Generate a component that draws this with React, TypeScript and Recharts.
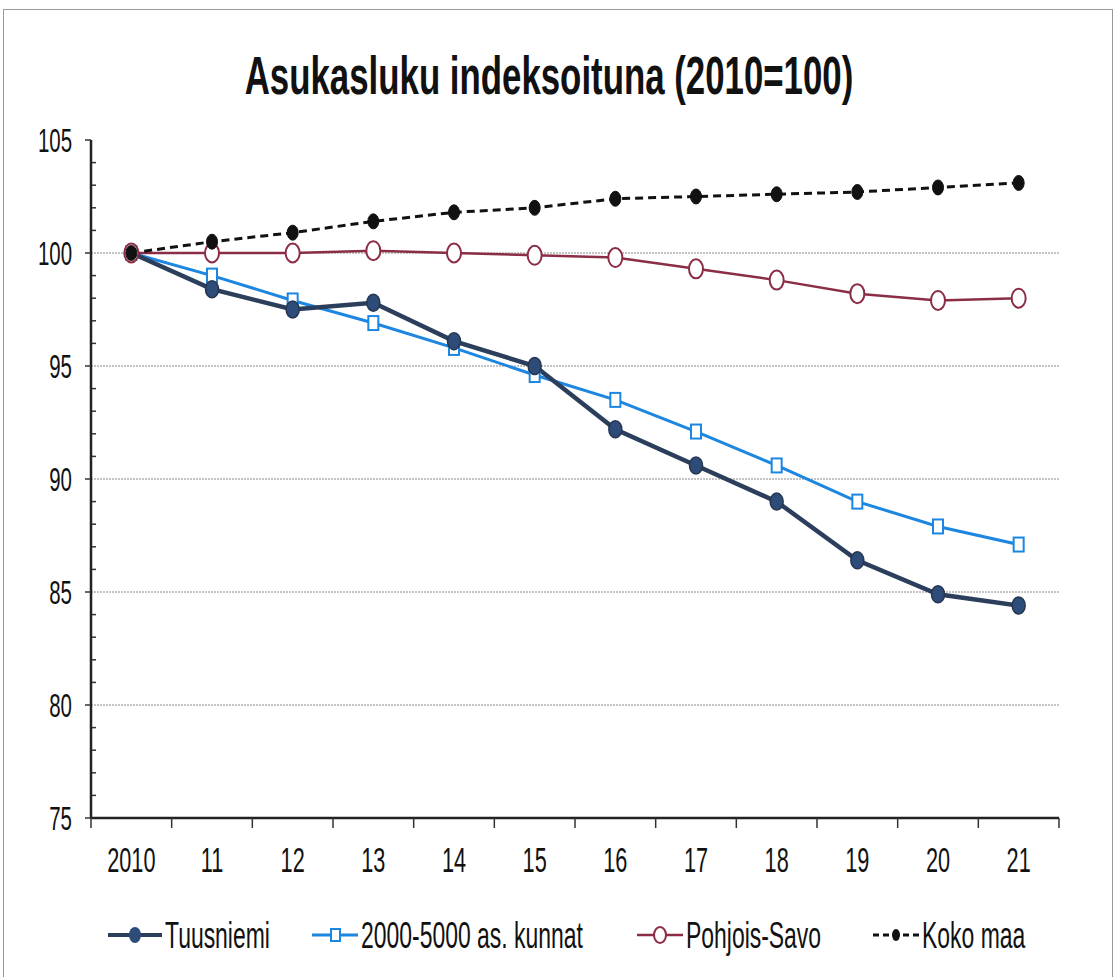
import React from 'react';
import { LineChart, Line, XAxis, YAxis, CartesianGrid } from 'recharts';

const years = ['2010', '11', '12', '13', '14', '15', '16', '17', '18', '19', '20', '21'];
const tuusniemi = [100, 98.4, 97.5, 97.8, 96.1, 95.0, 92.2, 90.6, 89.0, 86.4, 84.9, 84.4];
const kunnat = [100, 99.0, 97.9, 96.9, 95.8, 94.6, 93.5, 92.1, 90.6, 89.0, 87.9, 87.1];
const pohjoisSavo = [100, 100.0, 100.0, 100.1, 100.0, 99.9, 99.8, 99.3, 98.8, 98.2, 97.9, 98.0];
const kokoMaa = [100, 100.5, 100.9, 101.4, 101.8, 102.0, 102.4, 102.5, 102.6, 102.7, 102.9, 103.1];
const yTicks = [75, 80, 85, 90, 95, 100, 105];

const FONT = "'Liberation Sans', Arial, sans-serif";
const SX = 0.62; // the original type is very narrow

const data = years.map((y, i) => ({
  i,
  year: y,
  tuusniemi: tuusniemi[i],
  kunnat: kunnat[i],
  savo: pohjoisSavo[i],
  koko: kokoMaa[i],
}));

// labels on whole indexes, tick marks between categories
const xTicks: number[] = [];
for (let k = -0.5; k <= years.length - 0.5; k += 0.5) xTicks.push(k);

const yAll: number[] = [];
for (let v = 75; v <= 105; v++) yAll.push(v);

const NarrowText = ({ x, y, size, anchor = 'start', children, weight = 'normal', sx = SX }: any) => (
  <text
    transform={`translate(${x},${y}) scale(${sx},1)`}
    textAnchor={anchor}
    fontFamily={FONT}
    fontSize={size}
    fontWeight={weight}
    fill="#111"
  >
    {children}
  </text>
);

const XTick = (props: any) => {
  const { x, y, payload } = props;
  const v = payload.value as number;
  if (Number.isInteger(v)) {
    return <NarrowText x={x} y={y + 54} size={35} anchor="middle">{years[v]}</NarrowText>;
  }
  return <line x1={x} x2={x} y1={y} y2={y + 10} stroke="#333" strokeWidth={1.5} />;
};

const YTick = (props: any) => {
  const { x, y, payload } = props;
  const v = payload.value as number;
  if (yTicks.includes(v)) {
    return (
      <g>
        <line x1={x - 6} x2={x} y1={y} y2={y} stroke="#333" strokeWidth={1.5} />
        <NarrowText x={x - 19} y={y + 12} size={33} anchor="end">{v}</NarrowText>
      </g>
    );
  }
  return <line x1={x + 1} x2={x + 5} y1={y} y2={y} stroke="#333" strokeWidth={1.5} />;
};

const SquareDot = (props: any) => {
  const { cx, cy } = props;
  if (cx == null || cy == null) return null;
  return <rect x={cx - 5} y={cy - 7} width={10} height={14} fill="#fff" stroke="#1c86e0" strokeWidth={2} />;
};

const makeEllipseDot = (rx: number, ry: number, fill: string, stroke: string, sw: number) => (props: any) => {
  const { cx, cy } = props;
  if (cx == null || cy == null) return null;
  return <ellipse cx={cx} cy={cy} rx={rx} ry={ry} fill={fill} stroke={stroke} strokeWidth={sw} />;
};

const TuusDot = makeEllipseDot(6.5, 8.5, '#2e4c7a', '#26364f', 1.5);
const SavoDot = makeEllipseDot(7, 9.5, '#fff', '#8a2d45', 2);
const KokoDot = makeEllipseDot(5.5, 7.5, '#111', '#111', 1);

const legendItems = [
  { name: 'Tuusniemi', kind: 'tuus', left: 108 },
  { name: '2000-5000 as. kunnat', kind: 'kunnat', left: 312 },
  { name: 'Pohjois-Savo', kind: 'savo', left: 637 },
  { name: 'Koko maa', kind: 'koko', left: 873 },
];

const LegendIcon = ({ kind }: { kind: string }) => {
  if (kind === 'tuus')
    return (
      <g>
        <line x1={0} x2={54} y1={0} y2={0} stroke="#2b3f5c" strokeWidth={4} />
        <ellipse cx={27} cy={0} rx={6} ry={8} fill="#2e4c7a" />
      </g>
    );
  if (kind === 'kunnat')
    return (
      <g>
        <line x1={0} x2={46} y1={0} y2={0} stroke="#1c86e0" strokeWidth={3} />
        <rect x={19} y={-6} width={9} height={12} fill="#fff" stroke="#1c86e0" strokeWidth={2} />
      </g>
    );
  if (kind === 'savo')
    return (
      <g>
        <line x1={0} x2={46} y1={0} y2={0} stroke="#8a2d45" strokeWidth={2.5} />
        <ellipse cx={23} cy={0} rx={6} ry={8} fill="#fff" stroke="#8a2d45" strokeWidth={2} />
      </g>
    );
  return (
    <g>
      <line x1={0} x2={46} y1={0} y2={0} stroke="#111" strokeWidth={3} strokeDasharray="6 4" />
      <ellipse cx={23} cy={0} rx={4} ry={6} fill="#111" />
    </g>
  );
};

export default function App() {
  return (
    <div style={{ position: 'absolute', left: 0, top: 0, width: 1115, height: 977, background: '#fff', overflow: 'hidden' }}>
      <div style={{ position: 'absolute', left: 3, top: 9, width: 1108, height: 1000, border: '1.5px solid #999' }} />
      <div style={{ position: 'absolute', left: 0, top: 0 }}>
        <LineChart width={1115} height={977} data={data} margin={{ top: 140, right: 56, bottom: 99, left: 0 }}>
          <CartesianGrid
            horizontal
            vertical={false}
            stroke="#888"
            strokeDasharray="2 1"
            horizontalValues={[80, 85, 90, 95, 100]}
          />
          <XAxis
            dataKey="i"
            type="number"
            domain={[-0.5, years.length - 0.5]}
            ticks={xTicks}
            interval={0}
            tick={<XTick />}
            tickLine={false}
            tickSize={0}
            tickMargin={0}
            axisLine={{ stroke: '#222', strokeWidth: 2.5 }}
            height={60}
          />
          <YAxis
            type="number"
            domain={[75, 105]}
            ticks={yAll}
            interval={0}
            tick={<YTick />}
            tickLine={false}
            tickSize={0}
            tickMargin={0}
            axisLine={{ stroke: '#222', strokeWidth: 2.5 }}
            width={91}
          />
          <YAxis
            yAxisId="right"
            orientation="right"
            type="number"
            domain={[75, 105]}
            tick={false}
            tickLine={false}
            axisLine={{ stroke: '#222', strokeWidth: 2.5 }}
            width={0}
          />
          <XAxis
            xAxisId="top"
            orientation="top"
            type="number"
            dataKey="i"
            domain={[-0.5, years.length - 0.5]}
            tick={false}
            tickLine={false}
            axisLine={{ stroke: '#222', strokeWidth: 2.5 }}
            height={0}
          />
          <Line
            dataKey="kunnat"
            stroke="#1c86e0"
            strokeWidth={3}
            dot={<SquareDot />}
            isAnimationActive={false}
          />
          <Line
            dataKey="tuusniemi"
            stroke="#2b3f5c"
            strokeWidth={4.5}
            dot={<TuusDot />}
            isAnimationActive={false}
          />
          <Line
            dataKey="savo"
            stroke="#8a2d45"
            strokeWidth={2.5}
            dot={<SavoDot />}
            isAnimationActive={false}
          />
          <Line
            dataKey="koko"
            stroke="#111"
            strokeWidth={3}
            strokeDasharray="8 5"
            dot={<KokoDot />}
            isAnimationActive={false}
          />
          <NarrowText x={549} y={94} size={54} anchor="middle" weight="bold" sx={0.645}>
            Asukasluku indeksoituna (2010=100)
          </NarrowText>
          {legendItems.map((it) => (
            <g key={it.name} transform={`translate(${it.left},935)`}>
              <LegendIcon kind={it.kind} />
              <NarrowText x={it.kind === 'tuus' ? 57 : 49} y={13} size={37}>
                {it.name}
              </NarrowText>
            </g>
          ))}
        </LineChart>
      </div>
    </div>
  );
}
